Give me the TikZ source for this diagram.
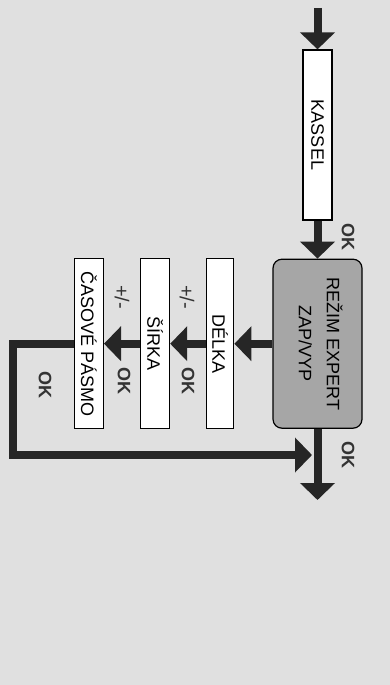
\documentclass[tikz,border=0pt]{standalone}
\usepackage{fontspec}
\setmainfont{Liberation Sans}
\usepackage{graphicx}
\usepackage{tikz}
\usetikzlibrary{arrows.meta, positioning}

\begin{document}
\begin{tikzpicture}[
  box/.style={rectangle, draw, line width=1.2pt, fill=white, minimum width=29pt, minimum height=170pt, inner sep=0pt, font=\fontsize{18}{21}\selectfont},
  lbl/.style={rotate=-90, font=\bfseries\fontsize{18}{20}\selectfont, text=black!80},
  arr/.style={line width=8pt, draw=black!85, -{Triangle[width=34pt, length=17pt]}}
]
  \fill[black!12] (0pt,0pt) rectangle (390pt,-685pt);

  \node[box] (kassel) at (317.5pt,-135pt) {\rotatebox{-90}{KASSEL}};
  \node[box, fill=black!35, rounded corners=9pt, minimum width=89pt, minimum height=169pt, below=38pt of kassel] (rezim) {\rotatebox{-90}{\begin{tabular}{@{}c@{}}REŽIM EXPERT\\[7pt]ZAP/VYP\end{tabular}}};
  \node[box, minimum width=27pt, left=38pt of rezim] (delka) {\rotatebox{-90}{DÉLKA}};
  \node[box, left=36pt of delka] (sirka) {\rotatebox{-90}{ŠÍRKA}};
  \node[box, left=36pt of sirka] (casove) {\rotatebox{-90}{ČASOVÉ PÁSMO}};

  \coordinate (in) at (317.5pt,-8pt);
  \coordinate (out) at (317.5pt,-500pt);
  \coordinate (back) at (312pt,-455pt);

  \draw[arr] (in) -- (kassel);
  \draw[arr] (kassel) -- (rezim);
  \draw[arr] (rezim) -- (out);
  \draw[arr] (rezim) -- (delka);
  \draw[arr] (delka) -- (sirka);
  \draw[arr] (sirka) -- (casove);
  \draw[arr] (casove.west) -- ++(-61pt,0pt) |- (back);

  % popisky
  \node[lbl] (ok1) at (348pt,-237pt) {OK};
  \node[lbl] (ok2) at (348pt,-455pt) {OK};
  \node[lbl, font=\fontsize{20}{22}\selectfont] (pm1) at (187pt,-297pt) {+/-};
  \node[lbl, font=\fontsize{20}{22}\selectfont] (pm2) at (122pt,-297pt) {+/-};
  \node[lbl] (ok3) at (188pt,-381pt) {OK};
  \node[lbl] (ok4) at (124pt,-381pt) {OK};
  \node[lbl] (ok5) at (45pt,-385pt) {OK};
\end{tikzpicture}
\end{document}
